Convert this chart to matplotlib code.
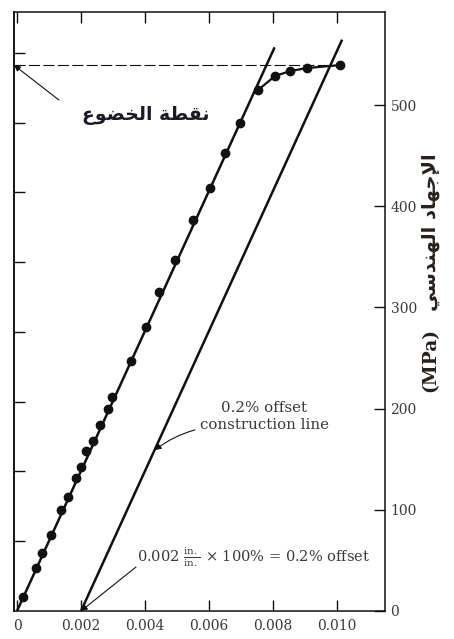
import matplotlib
matplotlib.use("Agg")
import matplotlib.pyplot as plt
import numpy as np

# ---------------- data ----------------
strain = [0.00019, 0.00059, 0.00078, 0.00106, 0.00138, 0.00159, 0.00184, 0.00200,
          0.00216, 0.00238, 0.00259, 0.00284, 0.00297, 0.00356, 0.00403, 0.00444,
          0.00494, 0.00550, 0.00603, 0.00650, 0.00697, 0.00753, 0.00806, 0.00853,
          0.00906, 0.01009]
stress = [13.8, 42.5, 57.3, 75.1, 99.8, 112.6, 131.4, 142.3,
          158.1, 168.0, 183.8, 199.6, 211.5, 247.0, 280.6, 315.2,
          346.8, 386.4, 418.0, 452.6, 482.2, 514.8, 528.7, 533.6,
          536.6, 539.5]
plastic_start = 21            # index where curve leaves the straight line
modulus = 69200.0             # MPa, slope of elastic line
elastic_end = 0.00805
offset = 0.002
offset_end = 0.01016
yield_stress = 539.5

x_ticks = [0, 0.002, 0.004, 0.006, 0.008, 0.010]
x_ticklabels = ["0", "0.002", "0.004", "0.006", "0.008", "0.010"]
mpa_ticks = [0, 100, 200, 300, 400, 500]
mpa_ticklabels = ["0", "100", "200", "300", "400", "500"]
ksi_ticks = [10, 20, 30, 40, 50, 60, 70, 80]

# ---------------- Arabic shaping (presentation forms) ----------------
FORMS = {  # isolated, final, initial, medial
    'ا': ('\uFE8D', '\uFE8E', None, None),
    'إ': ('\uFE87', '\uFE88', None, None),
    'ل': ('\uFEDD', '\uFEDE', '\uFEDF', '\uFEE0'),
    'ن': ('\uFEE5', '\uFEE6', '\uFEE7', '\uFEE8'),
    'ق': ('\uFED5', '\uFED6', '\uFED7', '\uFED8'),
    'ط': ('\uFEC1', '\uFEC2', '\uFEC3', '\uFEC4'),
    'ة': ('\uFE93', '\uFE94', None, None),
    'خ': ('\uFEA5', '\uFEA6', '\uFEA7', '\uFEA8'),
    'ض': ('\uFEBD', '\uFEBE', '\uFEBF', '\uFEC0'),
    'و': ('\uFEED', '\uFEEE', None, None),
    'ع': ('\uFEC9', '\uFECA', '\uFECB', '\uFECC'),
    'ج': ('\uFE9D', '\uFE9E', '\uFE9F', '\uFEA0'),
    'ه': ('\uFEE9', '\uFEEA', '\uFEEB', '\uFEEC'),
    'د': ('\uFEA9', '\uFEAA', None, None),
    'س': ('\uFEB1', '\uFEB2', '\uFEB3', '\uFEB4'),
    'ي': ('\uFEF1', '\uFEF2', '\uFEF3', '\uFEF4'),
}
LAM_ALEF = {'ا': ('\uFEFB', '\uFEFC'), 'إ': ('\uFEF9', '\uFEFA')}


def shape(text):
    out = []
    i = 0
    prev_joins = False
    while i < len(text):
        c = text[i]
        if c not in FORMS:
            out.append(c)
            prev_joins = False
            i += 1
            continue
        if c == 'ل' and i + 1 < len(text) and text[i + 1] in LAM_ALEF:
            iso, fin = LAM_ALEF[text[i + 1]]
            out.append(fin if prev_joins else iso)
            prev_joins = False
            i += 2
            continue
        iso, fin, ini, med = FORMS[c]
        nxt = text[i + 1] if i + 1 < len(text) else ''
        joins_next = ini is not None and nxt in FORMS
        if prev_joins and joins_next:
            out.append(med)
        elif prev_joins:
            out.append(fin)
        elif joins_next:
            out.append(ini)
        else:
            out.append(iso)
        prev_joins = joins_next
        i += 1
    return ''.join(reversed(out))


yield_label = shape("نقطة الخضوع")
stress_label = shape("الإجهاد الهندسي")

# ---------------- figure ----------------
plt.rcParams['mathtext.fontset'] = 'dejavuserif'
ink = '#111111'
grey = '#3a3a3a'
W, H = 454, 639
fig = plt.figure(figsize=(W / 100, H / 100), dpi=100)
ax = fig.add_axes([14 / W, 1 - 611 / H, (385 - 14) / W, (611 - 12) / H])

xmin, xmax = -0.0000938, 0.0115
ax.set_xlim(xmin, xmax)
ax.set_ylim(0, 592)

# elastic line and offset construction line
ax.plot([0, elastic_end], [0, modulus * elastic_end], color=ink, lw=1.8, solid_capstyle='butt')
ax.plot([offset, offset_end], [0, modulus * (offset_end - offset)], color=ink, lw=1.8,
        solid_capstyle='butt')
# plastic part of the curve
ax.plot(strain[plastic_start:], stress[plastic_start:], color=ink, lw=1.6)
# data points
ax.plot(strain, stress, 'o', color=ink, ms=6, ls='none')
# yield dashed line
ax.plot([xmin, strain[-1]], [yield_stress, yield_stress], color=ink, lw=0.8,
        dashes=(10, 3))

# ticks
ax.set_xticks(x_ticks)
ax.set_xticklabels(x_ticklabels, family='DejaVu Serif', fontsize=10, color=grey)
ax.tick_params(axis='x', direction='in', top=True, length=8, width=1.0, pad=6, colors=ink,
               labelcolor=grey)
ax.yaxis.tick_right()
ax.set_yticks(mpa_ticks)
ax.set_yticklabels(mpa_ticklabels, family='DejaVu Serif', fontsize=10, color=grey)
ax.tick_params(axis='y', direction='in', length=8, width=1.0, pad=4, colors=ink,
               labelcolor=grey)
for s in ax.spines.values():
    s.set_linewidth(1.1)
    s.set_color(ink)

sec = ax.secondary_yaxis('left', functions=(lambda m: m / 6.895, lambda k: k * 6.895))
sec.set_yticks(ksi_ticks)
sec.set_yticklabels([])
sec.tick_params(direction='in', length=8, width=1.0, colors=ink)
sec.spines['left'].set_linewidth(1.1)

arrow = dict(arrowstyle='-|>', lw=0.8, color=ink, mutation_scale=9, shrinkA=0, shrinkB=0)

# yield point label
ax.text(0.00402, 490, yield_label, fontsize=13.5, fontweight='bold', family='DejaVu Sans',
        color='#1a1a2a', ha='center', va='center')
ax.annotate('', xy=(xmin, yield_stress), xytext=(0.00131, 505), arrowprops=arrow,
            annotation_clip=False)

# offset construction line label
ax.text(0.00772, 192, "0.2% offset\nconstruction line", family='DejaVu Serif',
        fontsize=10.8, color=grey, ha='center', va='center', linespacing=1.25)
ax.annotate('', xy=(0.00431, 159), xytext=(0.00556, 179),
            arrowprops=dict(arrow, connectionstyle='arc3,rad=0.1'))

# offset definition label
ax.text(0.00375, 53.4, r"0.002 $\frac{\mathrm{in.}}{\mathrm{in.}}$ × 100% = 0.2% offset",
        family='DejaVu Serif', fontsize=10.5, color=grey, ha='left', va='center')
ax.annotate('', xy=(offset, 0), xytext=(0.00372, 43.5), arrowprops=arrow)

# right-side axis title (rotated)
fig.text(430 / W, 1 - 232 / H, stress_label, rotation=90, fontsize=14, fontweight='bold',
         family='DejaVu Sans', color='#2a1f1a', ha='center', va='center')
fig.text(430 / W, 1 - 360 / H, "(MPa)", rotation=90, fontsize=13.5, fontweight='bold',
         family='DejaVu Serif', color='#2a1f1a', ha='center', va='center')

fig.savefig("out.png", dpi=100)
